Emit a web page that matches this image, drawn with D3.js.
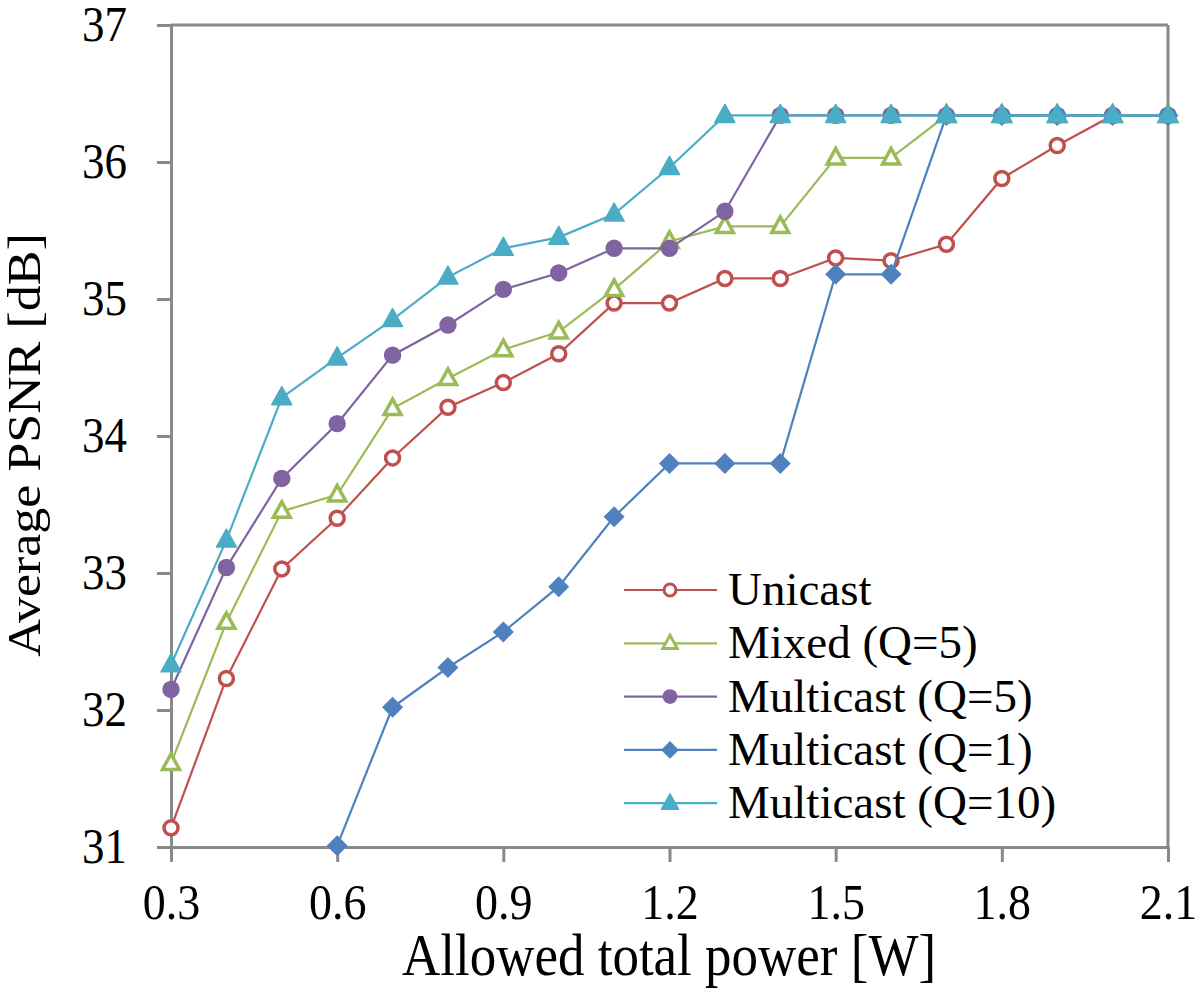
<!DOCTYPE html>
<html>
<head>
<meta charset="utf-8">
<script src="https://cdn.jsdelivr.net/npm/d3@7"></script>
<style>
  html, body { margin: 0; padding: 0; background: #fff; }
  svg { display: block; }
</style>
</head>
<body>
<svg id="chart" width="1200" height="988"></svg>
<script>
// ---- data ----
const powers = [0.3,0.4,0.5,0.6,0.7,0.8,0.9,1.0,1.1,1.2,1.3,1.4,1.5,1.6,1.7,1.8,1.9,2.0,2.1];
const unicast      = [31.14,32.23,33.03,33.40,33.84,34.21,34.39,34.60,34.97,34.97,35.15,35.15,35.30,35.28,35.40,35.88,36.12,36.34,36.34];
const mixedQ5      = [31.61,32.64,33.45,33.57,34.20,34.42,34.63,34.76,35.07,35.42,35.53,35.53,36.03,36.03,36.34,36.34,36.34,36.34,36.34];
const multicastQ5  = [32.15,33.04,33.69,34.09,34.59,34.81,35.07,35.19,35.37,35.37,35.64,36.34,36.34,36.34,36.34,36.34,36.34,36.34,36.34];
const multicastQ1  = [null,null,null,31.01,32.02,32.31,32.57,32.90,33.41,33.80,33.80,33.80,35.18,35.18,36.34,36.34,36.34,36.34,36.34];
const multicastQ10 = [32.33,33.24,34.28,34.57,34.85,35.16,35.37,35.45,35.62,35.96,36.34,36.34,36.34,36.34,36.34,36.34,36.34,36.34,36.34];
const seriesNames = ["Unicast","Mixed (Q=5)","Multicast (Q=5)","Multicast (Q=1)","Multicast (Q=10)"];
const xTicks = [0.3,0.6,0.9,1.2,1.5,1.8,2.1];
const yTicks = [31,32,33,34,35,36,37];
const xTitle = "Allowed total power [W]";
const yTitle = "Average PSNR [dB]";

// ---- styles ----
const FONT = '"Liberation Serif"';
const colors = ["#C0504D","#9BBB59","#8064A2","#4F81BD","#4BACC6"];
const markers = ["circleOpen","triangleOpen","circle","diamond","triangle"];
const allSeries = [unicast, mixedQ5, multicastQ5, multicastQ1, multicastQ10];

const svg = d3.select("#chart");
const L = 171, R = 1168, T = 25, B = 847;
const x = d3.scaleLinear().domain([0.3, 2.1]).range([L, R]);
const y = d3.scaleLinear().domain([31, 37]).range([B, T]);
const axisColor = "#898989";

// frame (top and right)
svg.append("line").attr("x1", L).attr("x2", R).attr("y1", T).attr("y2", T)
  .attr("stroke", axisColor).attr("stroke-width", 3);
svg.append("line").attr("x1", R).attr("x2", R).attr("y1", T).attr("y2", B)
  .attr("stroke", axisColor).attr("stroke-width", 3);

// axes
const gx = svg.append("g").attr("transform", `translate(0,${B})`)
  .call(d3.axisBottom(x).tickValues(xTicks).tickSize(15).tickSizeOuter(0)
    .tickFormat(d3.format(".1f")));
gx.select(".domain").attr("stroke", axisColor).attr("stroke-width", 3);
gx.selectAll(".tick line").attr("stroke", axisColor).attr("stroke-width", 3);
gx.selectAll(".tick text")
  .attr("y", null).attr("dy", null)
  .attr("transform", "translate(0,72) scale(1,1.1)")
  .style("font-family", FONT).style("font-size", "46px")
  .attr("fill", "#000").attr("text-anchor", "middle");

const gy = svg.append("g").attr("transform", `translate(${L},0)`)
  .call(d3.axisLeft(y).tickValues(yTicks).tickSize(14).tickSizeOuter(0)
    .tickFormat(d3.format("d")));
gy.select(".domain").attr("stroke", axisColor).attr("stroke-width", 3);
gy.selectAll(".tick line").attr("stroke", axisColor).attr("stroke-width", 3);
gy.selectAll(".tick text")
  .attr("x", null).attr("dy", null)
  .attr("transform", "translate(-44,15) scale(1,1.12)")
  .style("font-family", FONT).style("font-size", "45px")
  .attr("fill", "#000").attr("text-anchor", "end");

// titles
svg.append("text").attr("transform", "translate(669,975) scale(1,1.1)")
  .attr("text-anchor", "middle").style("font-family", FONT).style("font-size", "53px").text(xTitle);
svg.append("text").attr("transform", "translate(40,445) rotate(-90) scale(1,0.88)")
  .attr("text-anchor", "middle").style("font-family", FONT).style("font-size", "52px").text(yTitle);

// marker drawing
function drawMarker(g, type, color, cx, cy, scale) {
  const s = scale || 1;
  if (type === "circleOpen") {
    g.append("circle").attr("cx", cx).attr("cy", cy).attr("r", 7 * s)
      .attr("fill", "#fff").attr("stroke", color).attr("stroke-width", 3.5 * s);
  } else if (type === "circle") {
    g.append("circle").attr("cx", cx).attr("cy", cy).attr("r", 8.7 * s).attr("fill", color);
  } else if (type === "diamond") {
    const h = 10.5 * s;
    g.append("path").attr("d", `M${cx},${cy-h}L${cx+h},${cy}L${cx},${cy+h}L${cx-h},${cy}Z`).attr("fill", color);
  } else if (type === "triangle") {
    const w = 10 * s, up = 11 * s, dn = 7 * s;
    g.append("path").attr("d", `M${cx},${cy-up}L${cx+w},${cy+dn}L${cx-w},${cy+dn}Z`)
      .attr("fill", color).attr("stroke", color).attr("stroke-width", 1.5).attr("stroke-linejoin", "round");
  } else if (type === "triangleOpen") {
    const w = 8.5 * s, up = 9.5 * s, dn = 6 * s;
    g.append("path").attr("d", `M${cx},${cy-up}L${cx+w},${cy+dn}L${cx-w},${cy+dn}Z`)
      .attr("fill", "#fff").attr("stroke", color).attr("stroke-width", 3.5 * s).attr("stroke-linejoin", "miter");
  }
}

// series
const line = d3.line().defined(d => d[1] !== null).x(d => x(d[0])).y(d => y(d[1]));
allSeries.forEach((vals, i) => {
  const pts = powers.map((p, k) => [p, vals[k]]);
  const g = svg.append("g");
  g.append("path").datum(pts).attr("d", line).attr("fill", "none")
    .attr("stroke", colors[i]).attr("stroke-width", 2.2);
  pts.filter(d => d[1] !== null).forEach(d => drawMarker(g, markers[i], colors[i], x(d[0]), y(d[1]), 1));
});

// legend
const lg = svg.append("g");
seriesNames.forEach((name, i) => {
  const cy = 590 + i * 53.3;
  lg.append("line").attr("x1", 624).attr("x2", 717).attr("y1", cy).attr("y2", cy)
    .attr("stroke", colors[i]).attr("stroke-width", 2.2);
  drawMarker(lg, markers[i], colors[i], 670, cy, 0.85);
  lg.append("text").attr("x", 728).attr("y", cy + 15)
    .style("font-family", FONT).style("font-size", "47px").attr("fill", "#000").text(name);
});
</script>
</body>
</html>
